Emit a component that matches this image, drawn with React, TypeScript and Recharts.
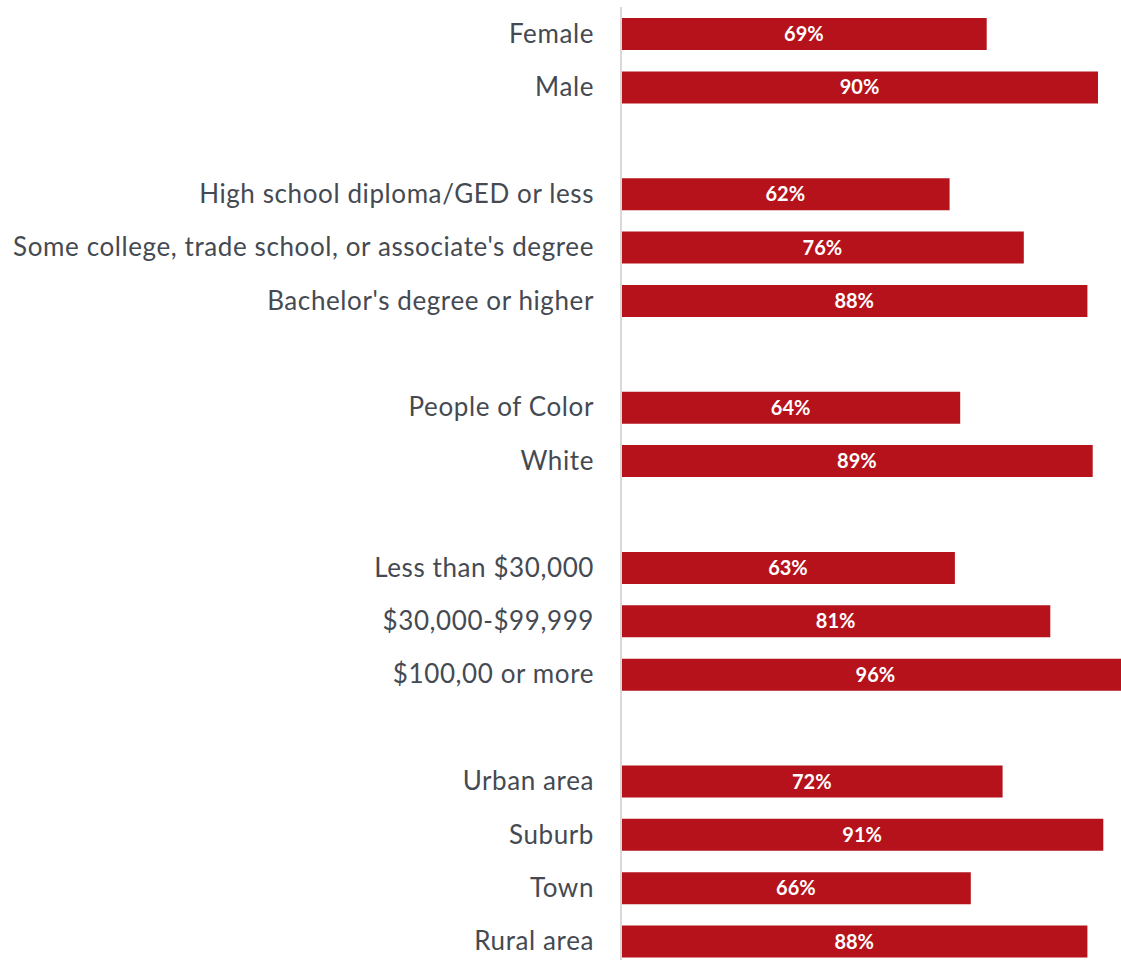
import { BarChart, Bar, XAxis, YAxis, LabelList } from "recharts"

// blank entries separate the groups
const categories = [
    "Female",
    "Male",
    "",
    "High school diploma/GED or less",
    "Some college, trade school, or associate's degree",
    "Bachelor's degree or higher",
    "",
    "People of Color",
    "White",
    "",
    "Less than $30,000",
    "$30,000-$99,999",
    "$100,00 or more",
    "",
    "Urban area",
    "Suburb",
    "Town",
    "Rural area",
]

const values: (number | null)[] = [
    69, 90, null,
    62, 76, 88, null,
    64, 89, null,
    63, 81, 96, null,
    72, 91, 66, 88,
]

const data = categories.map((label, i) => ({
    key: `row-${i}`,
    label,
    value: values[i],
}))

const FONT = "Lato, 'Open Sans', sans-serif"

const LabelTick = (props: any) => {
    const { x, y, payload } = props
    const row = data.find((d) => d.key === payload.value)
    if (!row || !row.label) return null
    return (
        <text
            x={x}
            y={y}
            dy={9}
            textAnchor="end"
            fill="#454a52"
            fontSize={26}
            letterSpacing={0.6}
            fontFamily={FONT}
        >
            {row.label}
        </text>
    )
}

export default function App() {
    return (
        <div
            style={{
                position: "absolute",
                top: 0,
                left: 0,
                width: 1121,
                height: 960,
                overflow: "hidden",
                background: "#fff",
            }}
        >
            <BarChart
                width={1151}
                height={968}
                data={data}
                layout="vertical"
                margin={{ top: 7, right: 0, bottom: 0, left: 0 }}
                barSize={32}
            >
                <XAxis type="number" domain={[0, 100]} hide />
                <YAxis
                    type="category"
                    dataKey="key"
                    width={621}
                    tick={<LabelTick />}
                    tickLine={false}
                    tickMargin={21}
                    axisLine={{ stroke: "#d9d9d9", strokeWidth: 2 }}
                    interval={0}
                />
                <Bar dataKey="value" fill="#b5121b" isAnimationActive={false}>
                    <LabelList
                        dataKey="value"
                        position="center"
                        fill="#ffffff"
                        fontSize={20}
                        fontWeight={700}
                        fontFamily={FONT}
                        formatter={(v: any) => (v == null ? "" : `${v}%`)}
                    />
                </Bar>
            </BarChart>
        </div>
    )
}
